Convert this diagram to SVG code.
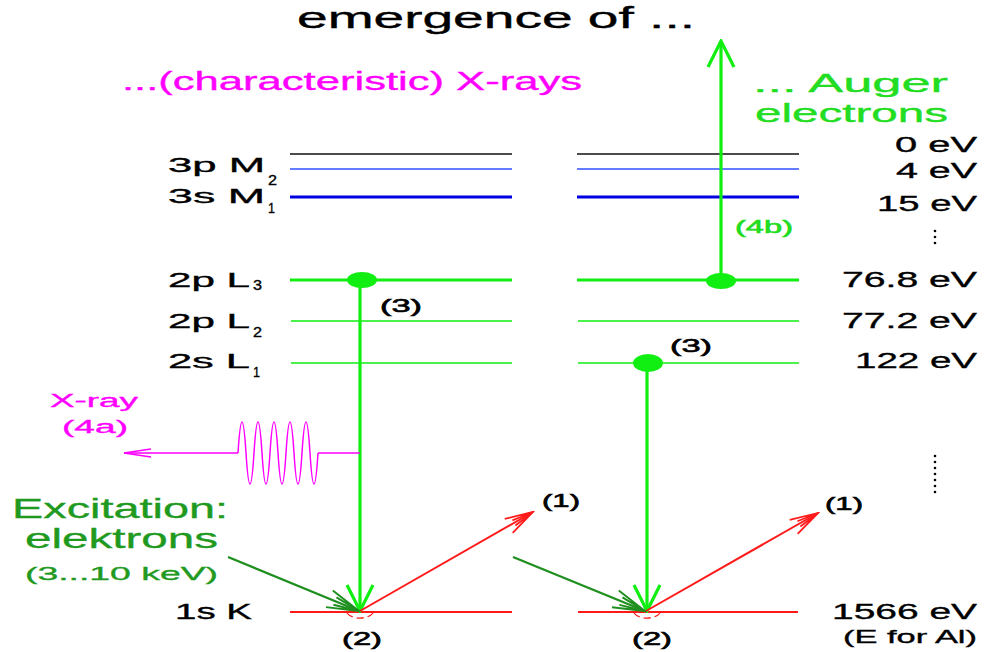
<svg xmlns="http://www.w3.org/2000/svg" width="984" height="652" viewBox="0 0 984 652">
<style>
text{font-family:"Liberation Sans",Arial,sans-serif;fill:#000;stroke:#000;stroke-width:0.35}
.lbl{font-size:21px}
.sub{font-size:15px}
.ev{font-size:22px}
.num{font-size:18px;stroke-width:0.6}
.mag{fill:#ff00ff;stroke:#ff00ff}
.grn{fill:#22dd22;stroke:#22dd22}
.dgr{fill:#1f9a1f;stroke:#1f9a1f}
.lv{fill:none}
.k{stroke:#111;stroke-width:1.4}
.b1{stroke:#3050ff;stroke-width:1.4}
.b2{stroke:#0000e0;stroke-width:3}
.g3{stroke:#11ee11;stroke-width:3}
.g1{stroke:#11ee11;stroke-width:1.5}
.r{stroke:#ff1a1a;stroke-width:2.2}
.vg{stroke:#11ee11;stroke-width:3.2;fill:none}
.ex{stroke:#1f8f1f;stroke-width:2.4;fill:none}
.ra{stroke:#ff1a1a;stroke-width:2;fill:none}
.dot{fill:#11ee11}
</style>
<defs>
<marker id="mG" markerUnits="userSpaceOnUse" viewBox="-30 -16 32 32" refX="0" refY="0" markerWidth="32" markerHeight="32" orient="auto">
<path d="M-26,-13 L0,0 L-26,13" fill="none" stroke="#11ee11" stroke-width="3.2"/>
</marker>
<marker id="mD" markerUnits="userSpaceOnUse" viewBox="-36 -14 38 28" refX="0" refY="0" markerWidth="38" markerHeight="28" orient="auto">
<path d="M-32,-9 L0,0 L-32,9 M-26,-4 L0,0 L-26,4" fill="none" stroke="#1f8f1f" stroke-width="2"/>
</marker>
<marker id="mR" markerUnits="userSpaceOnUse" viewBox="-32 -12 34 24" refX="0" refY="0" markerWidth="34" markerHeight="24" orient="auto">
<path d="M-28,-8 L0,0 L-28,8 M-22,-3 L0,0 L-22,3" fill="none" stroke="#ff1a1a" stroke-width="1.8"/>
</marker>
<marker id="mM" markerUnits="userSpaceOnUse" viewBox="-30 -8 32 16" refX="0" refY="0" markerWidth="32" markerHeight="16" orient="auto">
<path d="M-27,-4 L0,0 L-27,4" fill="none" stroke="#ff00ff" stroke-width="1.3"/>
</marker>
</defs>

<g id="titles">
<text x="297" y="28" font-size="29" stroke-width="0.7" textLength="398" lengthAdjust="spacingAndGlyphs">emergence of ...</text>
<text class="mag" x="122" y="90" font-size="25" textLength="460" lengthAdjust="spacingAndGlyphs">...(characteristic) X-rays</text>
<text class="grn" x="753" y="92" font-size="25" textLength="195" lengthAdjust="spacingAndGlyphs">... Auger</text>
<text class="grn" x="755" y="122" font-size="25" textLength="193" lengthAdjust="spacingAndGlyphs">electrons</text>
</g>

<g id="level-M2-0eV">
<line class="lv k" x1="290" y1="154" x2="512" y2="154"/>
<line class="lv k" x1="577" y1="154" x2="799" y2="154"/>
<text class="ev" x="895" y="152" textLength="82" lengthAdjust="spacingAndGlyphs">0 eV</text>
</g>
<g id="level-M2">
<line class="lv b1" x1="290" y1="169" x2="512" y2="169"/>
<line class="lv b1" x1="577" y1="169" x2="799" y2="169"/>
<text class="lbl" x="168" y="172" textLength="97" lengthAdjust="spacingAndGlyphs">3p M</text>
<text class="sub" x="268" y="185" textLength="9" lengthAdjust="spacingAndGlyphs">2</text>
<text class="ev" x="896" y="178" textLength="81" lengthAdjust="spacingAndGlyphs">4 eV</text>
</g>
<g id="level-M1">
<line class="lv b2" x1="290" y1="197" x2="512" y2="197"/>
<line class="lv b2" x1="577" y1="197" x2="799" y2="197"/>
<text class="lbl" x="168" y="203" textLength="97" lengthAdjust="spacingAndGlyphs">3s M</text>
<text class="sub" x="268" y="213" textLength="7" lengthAdjust="spacingAndGlyphs">1</text>
<text class="ev" x="877" y="211" textLength="100" lengthAdjust="spacingAndGlyphs">15 eV</text>
</g>
<g id="dots-upper">
<circle cx="935" cy="231" r="1.3"/><circle cx="935" cy="237" r="1.3"/><circle cx="935" cy="243" r="1.3"/>
</g>
<g id="level-L3">
<line class="lv g3" x1="290" y1="280" x2="512" y2="280"/>
<line class="lv g3" x1="577" y1="280" x2="799" y2="280"/>
<text class="lbl" x="168" y="287" textLength="82" lengthAdjust="spacingAndGlyphs">2p L</text>
<text class="sub" x="253" y="290" textLength="9" lengthAdjust="spacingAndGlyphs">3</text>
<text class="ev" x="842" y="287" textLength="135" lengthAdjust="spacingAndGlyphs">76.8 eV</text>
</g>
<g id="level-L2">
<line class="lv g1" x1="291" y1="321" x2="512" y2="321"/>
<line class="lv g1" x1="578" y1="321" x2="799" y2="321"/>
<text class="lbl" x="168" y="328" textLength="82" lengthAdjust="spacingAndGlyphs">2p L</text>
<text class="sub" x="253" y="337" textLength="9" lengthAdjust="spacingAndGlyphs">2</text>
<text class="ev" x="842" y="328" textLength="135" lengthAdjust="spacingAndGlyphs">77.2 eV</text>
</g>
<g id="level-L1">
<line class="lv g1" x1="291" y1="363" x2="512" y2="363"/>
<line class="lv g1" x1="578" y1="363" x2="799" y2="363"/>
<text class="lbl" x="168" y="368" textLength="82" lengthAdjust="spacingAndGlyphs">2s L</text>
<text class="sub" x="253" y="377" textLength="7" lengthAdjust="spacingAndGlyphs">1</text>
<text class="ev" x="855" y="368" textLength="122" lengthAdjust="spacingAndGlyphs">122 eV</text>
</g>
<g id="dots-lower">
<circle cx="935" cy="456" r="1.3"/><circle cx="935" cy="462" r="1.3"/><circle cx="935" cy="468" r="1.3"/><circle cx="935" cy="474" r="1.3"/><circle cx="935" cy="480" r="1.3"/><circle cx="935" cy="486" r="1.3"/><circle cx="935" cy="492" r="1.3"/>
</g>
<g id="level-K">
<line class="lv r" x1="290" y1="612" x2="512" y2="612"/>
<line class="lv r" x1="578" y1="612" x2="798" y2="612"/>
<text class="ev" x="175" y="619" textLength="77" lengthAdjust="spacingAndGlyphs">1s K</text>
<text class="ev" x="832" y="619" textLength="145" lengthAdjust="spacingAndGlyphs">1566 eV</text>
<text x="843" y="643" font-size="19" textLength="134" lengthAdjust="spacingAndGlyphs">(E for Al)</text>
</g>

<g id="excitation-label">
<text class="dgr" x="12" y="518" font-size="28" textLength="216" lengthAdjust="spacingAndGlyphs">Excitation:</text>
<text class="dgr" x="25" y="548" font-size="28" textLength="193" lengthAdjust="spacingAndGlyphs">elektrons</text>
<text class="dgr" x="25" y="580" font-size="19" textLength="193" lengthAdjust="spacingAndGlyphs">(3...10 keV)</text>
</g>
<g id="xray-label">
<text class="mag" x="50" y="407" font-size="18" textLength="88" lengthAdjust="spacingAndGlyphs">X-ray</text>
<text class="mag" x="62" y="433" font-size="18" textLength="66" lengthAdjust="spacingAndGlyphs">(4a)</text>
</g>

<g id="connectors">
<line class="vg" x1="360" y1="282" x2="360" y2="611" marker-end="url(#mG)"/>
<line class="ex" x1="228" y1="557" x2="359" y2="611" marker-end="url(#mD)"/>
<line class="ra" x1="360" y1="611" x2="533" y2="512" marker-end="url(#mR)"/>
<path d="M360,453 L318,453 M318,453 Q314,515 310,453 T302,453 T294,453 T286,453 T278,453 T270,453 T262,453 T254,453 T246,453 T238,453 M238,453 L124,453" fill="none" stroke="#ff00ff" stroke-width="1.5" marker-end="url(#mM)"/>
<path d="M347,613 A14,8 0 0 0 373,613" fill="none" stroke="#ff1a1a" stroke-width="1.3" stroke-dasharray="7,4"/>
<line class="vg" x1="647" y1="365" x2="647" y2="611" marker-end="url(#mG)"/>
<line class="vg" x1="721" y1="279" x2="721" y2="41" marker-end="url(#mG)"/>
<line class="ex" x1="513" y1="557" x2="645" y2="611" marker-end="url(#mD)"/>
<line class="ra" x1="646" y1="611" x2="818" y2="513" marker-end="url(#mR)"/>
<path d="M634,613 A14,8 0 0 0 660,613" fill="none" stroke="#ff1a1a" stroke-width="1.3" stroke-dasharray="7,4"/>
</g>

<g id="electron-dots">
<ellipse class="dot" cx="362" cy="280" rx="15" ry="8"/>
<ellipse class="dot" cx="721" cy="281" rx="15" ry="8"/>
<ellipse class="dot" cx="648" cy="363" rx="15" ry="9"/>
</g>

<g id="step-labels">
<text class="num" x="380" y="312" textLength="42" lengthAdjust="spacingAndGlyphs">(3)</text>
<text class="num" x="670" y="352" textLength="42" lengthAdjust="spacingAndGlyphs">(3)</text>
<text class="num grn" x="735" y="233" textLength="58" lengthAdjust="spacingAndGlyphs">(4b)</text>
<text class="num" x="542" y="507" textLength="38" lengthAdjust="spacingAndGlyphs">(1)</text>
<text class="num" x="825" y="510" textLength="38" lengthAdjust="spacingAndGlyphs">(1)</text>
<text class="num" x="342" y="645" textLength="40" lengthAdjust="spacingAndGlyphs">(2)</text>
<text class="num" x="632" y="645" textLength="40" lengthAdjust="spacingAndGlyphs">(2)</text>
</g>
</svg>
